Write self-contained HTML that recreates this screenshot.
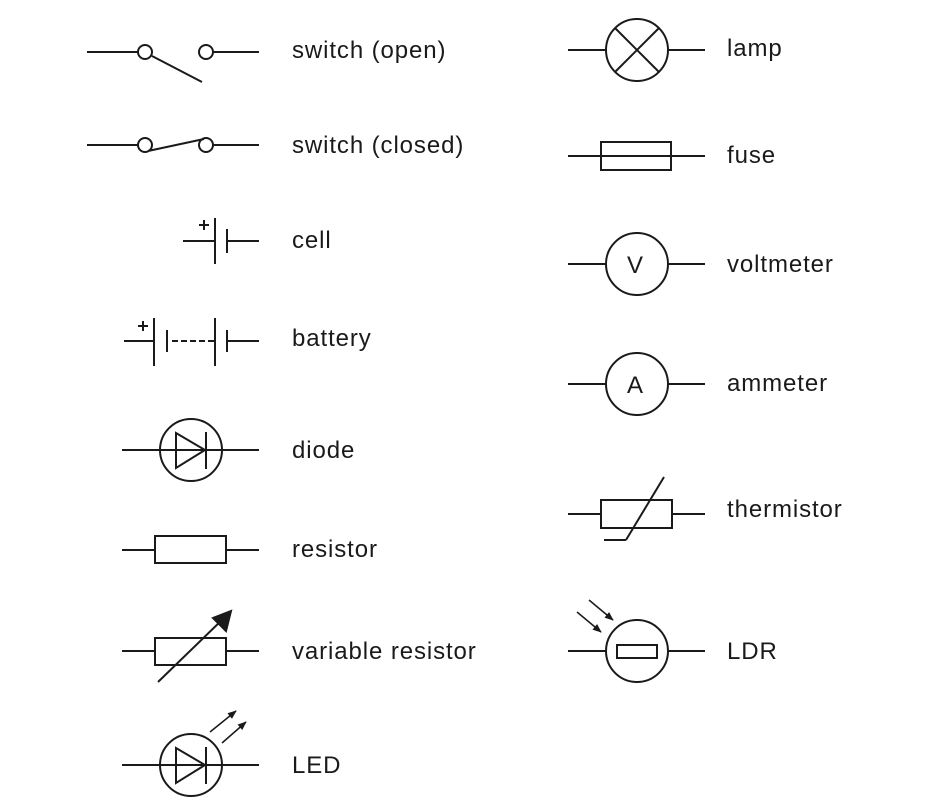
<!DOCTYPE html>
<html><head><meta charset="utf-8"><style>
html,body{margin:0;padding:0;background:#fff;}
svg{display:block}
text{font-family:"Liberation Sans",Arial,sans-serif;font-size:24px;letter-spacing:0.9px;fill:#1a1a1a}
</style></head><body>
<svg width="936" height="797" viewBox="0 0 936 797" xmlns="http://www.w3.org/2000/svg">
<defs>
<marker id="ah" viewBox="0 0 10 10" refX="9" refY="5" markerWidth="6" markerHeight="6" orient="auto"><path d="M0,1 L10,5 L0,9 z" fill="#1a1a1a"/></marker>
</defs>
<g stroke="#1a1a1a" stroke-width="2" fill="none">
<line x1="87" y1="52" x2="138" y2="52"/>
<circle cx="145" cy="52" r="7"/>
<circle cx="206" cy="52" r="7"/>
<line x1="213" y1="52" x2="259" y2="52"/>
<line x1="152" y1="56" x2="202" y2="82"/>
<line x1="87" y1="145" x2="138" y2="145"/>
<circle cx="145" cy="145" r="7"/>
<circle cx="206" cy="145" r="7"/>
<line x1="213" y1="145" x2="259" y2="145"/>
<line x1="148" y1="151" x2="204" y2="139"/>
<line x1="183" y1="241" x2="215" y2="241"/>
<line x1="215" y1="218" x2="215" y2="264"/>
<line x1="227" y1="229" x2="227" y2="253"/>
<line x1="227" y1="241" x2="259" y2="241"/>
<line x1="199" y1="225" x2="209" y2="225"/><line x1="204" y1="220" x2="204" y2="230"/>
<line x1="124" y1="341" x2="154" y2="341"/>
<line x1="154" y1="318" x2="154" y2="366"/>
<line x1="167" y1="330" x2="167" y2="352"/>
<line x1="172" y1="341" x2="214" y2="341" stroke-dasharray="6,3"/>
<line x1="215" y1="318" x2="215" y2="366"/>
<line x1="227" y1="330" x2="227" y2="352"/>
<line x1="227" y1="341" x2="259" y2="341"/>
<line x1="138" y1="326" x2="148" y2="326"/><line x1="143" y1="321" x2="143" y2="331"/>
<line x1="122" y1="450" x2="259" y2="450"/>
<circle cx="191" cy="450" r="31"/>
<path d="M176,433 L205,450 L176,468 Z"/>
<line x1="206" y1="432" x2="206" y2="469"/>
<line x1="122" y1="550" x2="155" y2="550"/>
<rect x="155" y="536" width="71" height="27"/>
<line x1="226" y1="550" x2="259" y2="550"/>
<line x1="122" y1="651" x2="155" y2="651"/>
<rect x="155" y="638" width="71" height="27"/>
<line x1="226" y1="651" x2="259" y2="651"/>
<line x1="158" y1="682" x2="224" y2="618"/>
<path d="M231,611 L226,631 L213,618 Z" fill="#1a1a1a"/>
<line x1="122" y1="765" x2="259" y2="765"/>
<circle cx="191" cy="765" r="31"/>
<path d="M176,748 L205,765 L176,783 Z"/>
<line x1="206" y1="747" x2="206" y2="784"/>
<line x1="210" y1="732" x2="236" y2="711" stroke-width="1.5" marker-end="url(#ah)"/>
<line x1="222" y1="743" x2="246" y2="722" stroke-width="1.5" marker-end="url(#ah)"/>
<line x1="568" y1="50" x2="606" y2="50"/>
<circle cx="637" cy="50" r="31"/>
<line x1="668" y1="50" x2="705" y2="50"/>
<line x1="615" y1="28" x2="659" y2="72"/><line x1="659" y1="28" x2="615" y2="72"/>
<line x1="568" y1="156" x2="705" y2="156"/>
<rect x="601" y="142" width="70" height="28"/>
<line x1="568" y1="264" x2="606" y2="264"/>
<circle cx="637" cy="264" r="31"/>
<line x1="668" y1="264" x2="705" y2="264"/>
<line x1="568" y1="384" x2="606" y2="384"/>
<circle cx="637" cy="384" r="31"/>
<line x1="668" y1="384" x2="705" y2="384"/>
<line x1="568" y1="514" x2="601" y2="514"/>
<rect x="601" y="500" width="71" height="28"/>
<line x1="672" y1="514" x2="705" y2="514"/>
<line x1="604" y1="540" x2="626" y2="540"/>
<line x1="626" y1="540" x2="664" y2="477"/>
<line x1="568" y1="651" x2="606" y2="651"/>
<circle cx="637" cy="651" r="31"/>
<line x1="668" y1="651" x2="705" y2="651"/>
<rect x="617" y="645" width="40" height="13"/>
<line x1="577" y1="612" x2="601" y2="632" stroke-width="1.5" marker-end="url(#ah)"/>
<line x1="589" y1="600" x2="613" y2="620" stroke-width="1.5" marker-end="url(#ah)"/>
</g>
<text x="627" y="273" style="font-size:24px;letter-spacing:0">V</text>
<text x="627" y="393" style="font-size:24px;letter-spacing:0">A</text>
<text x="292" y="58">switch (open)</text>
<text x="292" y="153">switch (closed)</text>
<text x="292" y="248">cell</text>
<text x="292" y="346">battery</text>
<text x="292" y="458">diode</text>
<text x="292" y="557">resistor</text>
<text x="292" y="659">variable resistor</text>
<text x="292" y="773">LED</text>
<text x="727" y="56">lamp</text>
<text x="727" y="163">fuse</text>
<text x="727" y="272">voltmeter</text>
<text x="727" y="391">ammeter</text>
<text x="727" y="517">thermistor</text>
<text x="727" y="659">LDR</text>
</svg>
</body></html>
